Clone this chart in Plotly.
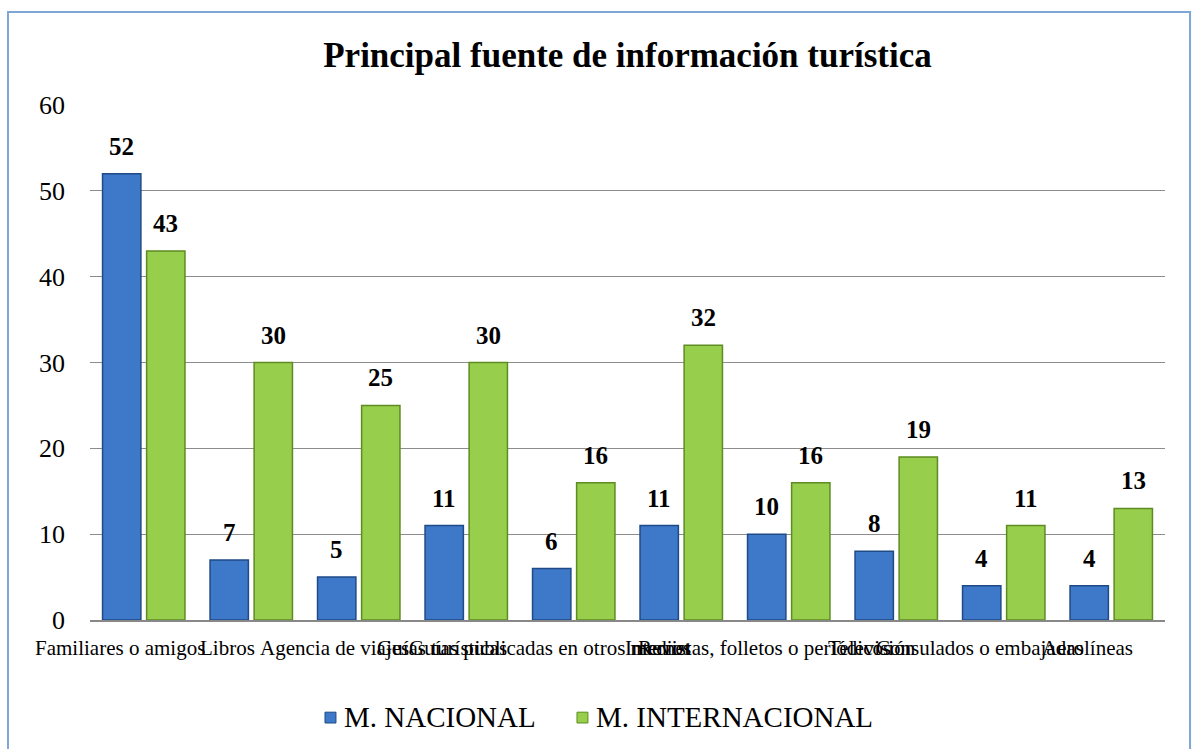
import plotly.graph_objects as go

# --------------------------------------------------
# Data
# --------------------------------------------------
categories = [
    "Familiares o amigos",
    "Libros",
    "Agencia de viajes",
    "Guías turísticas",
    "Guías publicadas en otros medios",
    "Internet",
    "Revistas, folletos o periódicos",
    "Televisión",
    "Consulados o embajadas",
    "Aerolíneas",
]
nacional = [52, 7, 5, 11, 6, 11, 10, 8, 4, 4]
internacional = [43, 30, 25, 30, 16, 32, 16, 19, 11, 13]
series_names = ["M. NACIONAL", "M. INTERNACIONAL"]

FONT = "Liberation Serif"
BLUE, BLUE_EDGE = "#3D78C9", "#1F4A86"
GREEN, GREEN_EDGE = "#97CE4B", "#5E8C22"

fig = go.Figure()

fig.add_trace(go.Bar(
    x=categories,
    y=nacional,
    name=series_names[0],
    marker=dict(color=BLUE, line=dict(color=BLUE_EDGE, width=1.5)),
))

fig.add_trace(go.Bar(
    x=categories,
    y=internacional,
    name=series_names[1],
    marker=dict(color=GREEN, line=dict(color=GREEN_EDGE, width=1.5)),
))

# --------------------------------------------------
# Value labels above each bar
# --------------------------------------------------
for values, shift in ((nacional, -22), (internacional, 22)):
    for cat, val in zip(categories, values):
        fig.add_annotation(
            x=cat, y=val, xref="x", yref="y",
            text=f"<b>{val}</b>",
            showarrow=False,
            xshift=shift, yshift=12,
            yanchor="bottom",
            font=dict(family=FONT, size=25, color="black"),
        )

# category labels (Excel places them slightly left of centre, overlapping)
for cat in categories:
    fig.add_annotation(
        x=cat, y=0, xref="x", yref="y",
        text=cat,
        showarrow=False,
        xshift=-24, yshift=-28,
        yanchor="middle",
        font=dict(family=FONT, size=21, color="black"),
    )

# --------------------------------------------------
# Legend drawn by hand so it keeps the serif font
# --------------------------------------------------
legend_items = [
    (series_names[0], BLUE, BLUE_EDGE, 0.2186),
    (series_names[1], GREEN, GREEN_EDGE, 0.4530),
]
for name, fill, edge, x0 in legend_items:
    fig.add_shape(
        type="rect", xref="paper", yref="paper",
        x0=x0, x1=x0 + 0.0102, y0=-0.200, y1=-0.179,
        fillcolor=fill, line=dict(color=edge, width=1),
    )
    fig.add_annotation(
        x=x0 + 0.0158, y=-0.188, xref="paper", yref="paper",
        text=name, showarrow=False,
        xanchor="left", yanchor="middle",
        font=dict(family=FONT, size=29, color="black"),
    )

# outer frame of the chart area
fig.add_shape(
    type="rect", xref="paper", yref="paper",
    x0=-0.0763, x1=1.0233, y0=-0.30, y1=1.1806,
    line=dict(color="#7FA6D6", width=2),
)

fig.update_layout(
    width=1195,
    height=749,
    margin=dict(l=90, r=30, t=105, b=129, autoexpand=False),
    paper_bgcolor="white",
    plot_bgcolor="white",
    barmode="group",
    bargap=0.18,
    bargroupgap=0.13,
    font=dict(family=FONT, color="black"),
    title=dict(
        text="<b>Principal fuente de información turística</b>",
        font=dict(family=FONT, size=35, color="black"),
        x=0.5, xref="paper", xanchor="center",
        y=0.927, yanchor="middle",
    ),
    xaxis=dict(
        range=[-0.5, len(categories) - 0.5],
        showticklabels=False,
        showline=True,
        linecolor="#888888",
        linewidth=1.5,
        ticks="",
        automargin=False,
    ),
    yaxis=dict(
        range=[0, 60],
        dtick=10,
        tickfont=dict(family=FONT, size=26),
        showgrid=True,
        gridcolor="#8C8C8C",
        gridwidth=1.2,
        zeroline=False,
        showline=False,
        ticks="",
        ticklabelstandoff=24,
        automargin=False,
    ),
    showlegend=False,
)

fig.write_html(
    "out.html",
    config={"displayModeBar": False},
    post_script="document.body.style.margin='0';document.body.style.padding='0';",
)
